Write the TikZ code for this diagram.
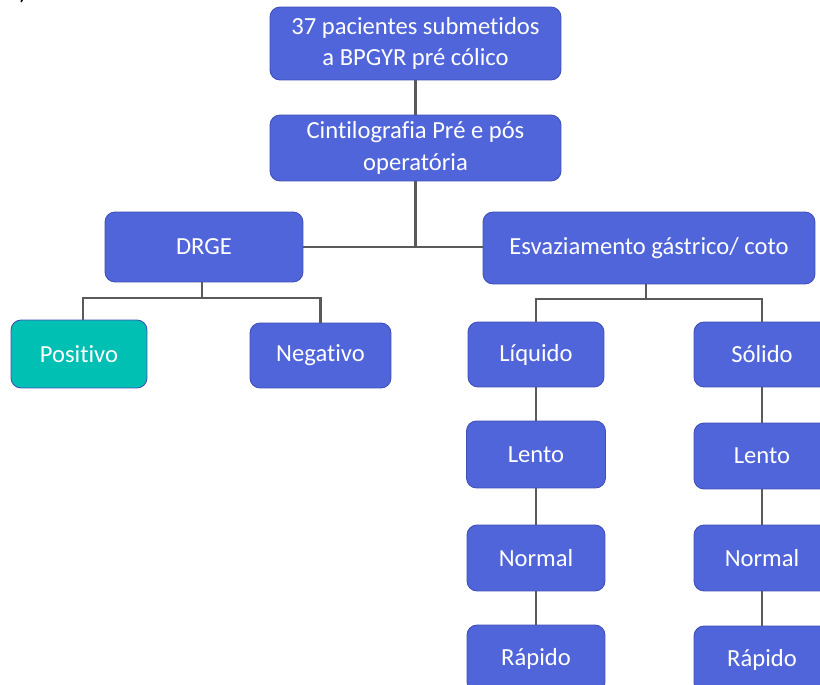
\documentclass[tikz,border=0pt]{standalone}
\usepackage{fontspec}
\setmainfont{Carlito}[Ligatures=NoCommon]
\usepackage{tikz}
\usetikzlibrary{positioning}

\definecolor{boxblue}{HTML}{5065D9}
\definecolor{boxedge}{HTML}{3F4FB8}
\definecolor{boxteal}{HTML}{00BFB3}
\definecolor{linkgray}{HTML}{5A5A5A}

\begin{document}
\begin{tikzpicture}[
    x=0.02cm, y=-0.02cm,
    box/.style={rectangle, rounded corners=0.2cm, draw=boxedge, line width=0.5pt, fill=boxblue, text=white, align=center, inner sep=0pt, font=\fontsize{14}{18}\selectfont},
    link/.style={draw=linkgray, line width=1.3pt}
]
\useasboundingbox (0,0) rectangle (820,685);

\node[anchor=base, font=\fontsize{14}{15}\selectfont] (lbl) at (23,0) {)};

\node[box, minimum width=5.82cm, minimum height=1.46cm] (pac) at (415.5,43.5) {37 pacientes submetidos\\a BPGYR pré cólico};
\node[box, minimum width=5.82cm, minimum height=1.32cm] (cint) at (415.5,148) {Cintilografia Pré e pós\\operatória};
\node[box, minimum width=3.96cm, minimum height=1.4cm] (drge) at (204,247) {DRGE};
\node[box, minimum width=6.64cm, minimum height=1.44cm] (esv) at (649,248) {Esvaziamento gástrico/ coto};

\node[box, fill=boxteal, minimum width=2.72cm, minimum height=1.36cm] (pos) at (79,354) {Positivo};
\node[box, minimum width=2.82cm, minimum height=1.3cm] (neg) at (320.5,355.5) {Negativo};

\node[box, minimum width=2.72cm, minimum height=1.3cm] (liq) at (536,354.5) {Líquido};
\node[box, minimum width=2.78cm, minimum height=1.34cm] (lenl) at (536,454.5) {Lento};
\node[box, minimum width=2.76cm, minimum height=1.32cm] (norl) at (536,558) {Normal};
\node[box, minimum width=2.76cm, minimum height=1.34cm] (rapl) at (536,658.5) {Rápido};

\node[box, minimum width=2.72cm, minimum height=1.3cm] (sol) at (762,354.5) {Sólido};
\node[box, minimum width=2.72cm, minimum height=1.32cm] (lens) at (762,456) {Lento};
\node[box, minimum width=2.72cm, minimum height=1.32cm] (nors) at (762,558) {Normal};
\node[box, minimum width=2.72cm, minimum height=1.34cm] (raps) at (762,659.5) {Rápido};

% ligações
\coordinate (dsplit) at (202,298);
\coordinate (esplit) at (646,299);

\draw[link] (pac) -- (cint);
\draw[link] (cint) -- (cint |- drge.east);
\draw[link] (drge.east) -- (drge.east -| esv.west);

\draw[link] (drge.south -| dsplit) -- (dsplit);
\draw[link] (pos.north -| 83,0) |- (dsplit) -| (neg.north);

\draw[link] (esv.south -| esplit) -- (esplit);
\draw[link] (liq.north) |- (esplit) -| (sol.north);

\draw[link] (liq) -- (lenl) -- (norl) -- (rapl);
\draw[link] (sol) -- (lens) -- (nors) -- (raps);
\end{tikzpicture}
\end{document}
